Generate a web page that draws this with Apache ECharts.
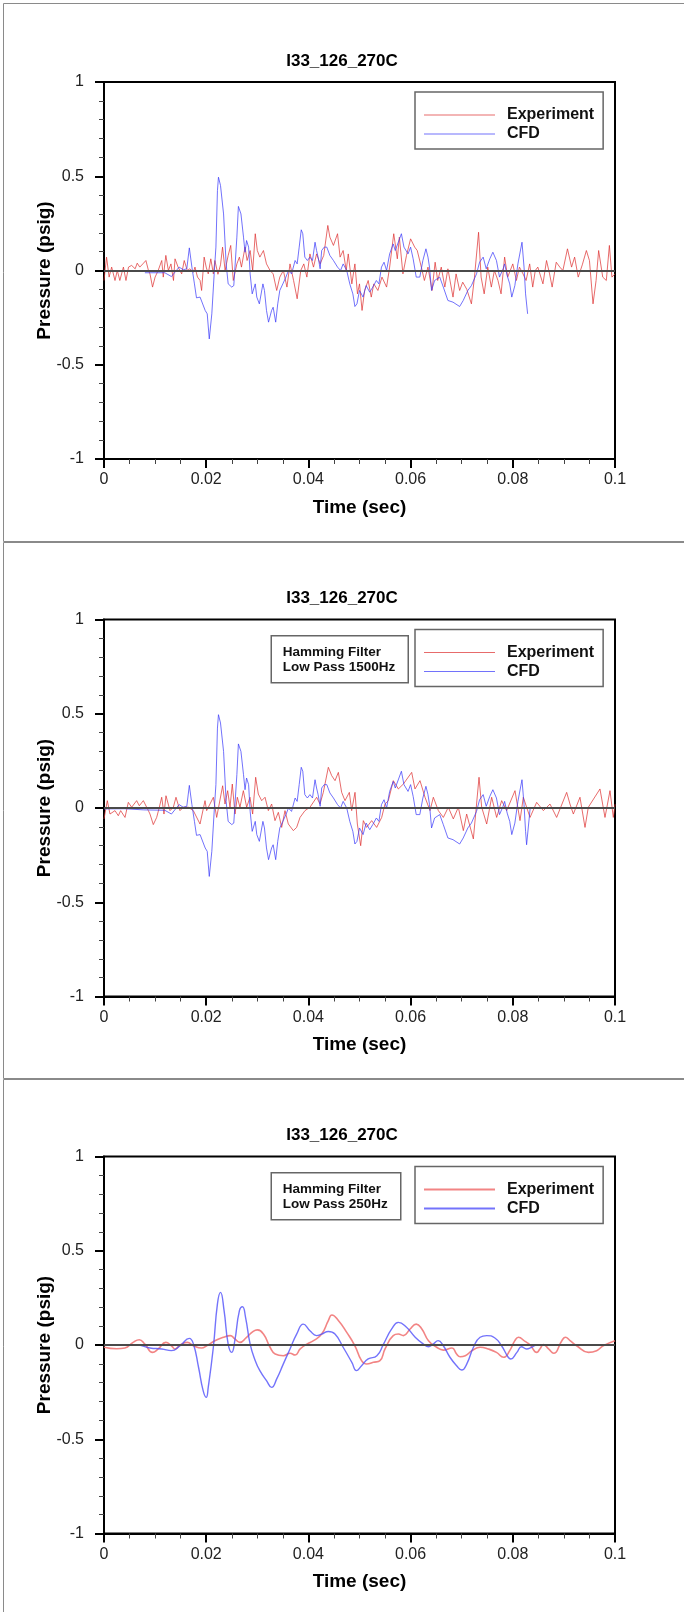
<!DOCTYPE html>
<html>
<head>
<meta charset="utf-8">
<script src="https://cdn.jsdelivr.net/npm/echarts@6/dist/echarts.min.js"></script>
<style>
html,body{margin:0;padding:0;background:#fff;}
#chart{width:684px;height:1612px;}
</style>
</head>
<body>
<div id="chart"></div>
<script>
// ---------- DATA (time in seconds, pressure in psig) ----------
const panelTitle = 'I33_126_270C';
const xTicks = [0, 0.02, 0.04, 0.06, 0.08, 0.1];
const yTicks = [-1, -0.5, 0, 0.5, 1];
const filterNotes = ['', 'Hamming Filter\nLow Pass 1500Hz', 'Hamming Filter\nLow Pass 250Hz'];

// Panel 1 : raw signals
const expRawA = [[0,-0.053],[0.0005,0.071],[0.001,-0.035],[0.0015,0.018],[0.00215,-0.053],[0.0026,0],[0.0031,-0.053],[0.0038,0.018],[0.0043,-0.053],[0.0048,0.018],[0.0054,0.027],[0.0061,0.009],[0.0065,0.039],[0.007,0.018],[0.0076,0.035],[0.0082,0.053],[0.0087,0],[0.009,-0.018],[0.0095,-0.088],[0.01,-0.035],[0.0106,0],[0.0113,0.053],[0.0116,-0.035],[0.0121,0.08],[0.0126,0],[0.0131,0.035],[0.0136,-0.053],[0.0139,0.062],[0.0145,0.018],[0.0152,-0.018],[0.0157,0.053],[0.0163,0],[0.0168,0.009],[0.0175,-0.009],[0.0178,0.018],[0.0183,-0.035],[0.0188,-0.053],[0.0191,-0.106],[0.0196,0.071],[0.02,0.018],[0.0204,-0.018],[0.0209,0.062],[0.0214,-0.018],[0.0217,0.053],[0.0223,-0.02],[0.0228,0.03],[0.0232,0.124],[0.0237,0],[0.0243,0.08],[0.0248,0.133],[0.0253,-0.053],[0.026,0.035],[0.0265,0.071],[0.0269,0.018],[0.0276,0.124],[0.028,0.053],[0.0286,0.106],[0.0291,0],[0.0296,0.195],[0.03,0.106],[0.0305,0.071],[0.0312,0.106],[0.0318,0.035],[0.0325,0],[0.0331,-0.018],[0.0338,-0.106],[0.0344,-0.035],[0.0351,0],[0.0358,-0.088],[0.0364,0.035],[0.0371,-0.053],[0.0378,-0.15],[0.0385,0],[0.0391,0.035],[0.0397,-0.035],[0.0403,0.088],[0.041,0.018],[0.0416,0.088],[0.0423,0.035],[0.043,0.08],[0.0438,0.239],[0.0442,0.177],[0.0449,0.133],[0.0457,0.195],[0.0462,0.071],[0.0468,0.106],[0.0474,0],[0.0478,0.088],[0.0485,-0.071],[0.0491,0.035],[0.0496,-0.124]];
const expRawB = [[0.05,-0.071],[0.0505,-0.212],[0.051,-0.106],[0.0517,-0.053],[0.0523,-0.141],[0.0528,-0.071],[0.0536,-0.106],[0.0544,-0.035],[0.0553,-0.088],[0.0559,0.018],[0.0567,0.195],[0.0574,0.062],[0.0578,0.177],[0.0585,-0.018],[0.0592,0.08],[0.06,0.168],[0.0608,0.124],[0.0613,0.106],[0.0621,0.018],[0.0627,-0.053],[0.0634,0.018],[0.0642,-0.106],[0.0648,0.044],[0.0653,-0.053],[0.066,0.018],[0.0667,-0.088],[0.0673,0.009],[0.0683,-0.141],[0.0689,-0.018],[0.0696,-0.106],[0.0702,-0.062],[0.071,-0.1],[0.0719,-0.177],[0.0725,-0.035],[0.0733,0.203],[0.0738,-0.035],[0.0744,-0.124],[0.0751,0.018],[0.0758,-0.088],[0.0764,0],[0.0771,-0.053],[0.0777,-0.124],[0.0784,0.071],[0.079,-0.035],[0.08,0.035],[0.0807,-0.053],[0.0813,0.018],[0.082,-0.018],[0.0826,-0.053],[0.0833,0.035],[0.0839,-0.088],[0.0844,0],[0.0849,0.018],[0.0859,-0.071],[0.0866,0.053],[0.0872,-0.018],[0.0877,-0.088],[0.0885,0.044],[0.0892,0.018],[0.0898,0],[0.0907,0.115],[0.0915,0.018],[0.0921,0.071],[0.0928,-0.035],[0.0936,0.03],[0.0944,0.106],[0.095,0.053],[0.0957,-0.177],[0.0963,-0.053],[0.0968,0.106],[0.0976,-0.035],[0.0983,-0.053],[0.0989,0.133],[0.0994,-0.035],[0.1,-0.018]];
const cfdRaw = [[0.008,-0.012],[0.0119,-0.012],[0.0132,-0.032],[0.0147,0.018],[0.0155,0.004],[0.0162,0.009],[0.0167,0.12],[0.0172,0.018],[0.0177,-0.071],[0.0181,-0.145],[0.0188,-0.141],[0.0198,-0.212],[0.0202,-0.23],[0.0206,-0.363],[0.0211,-0.23],[0.0216,0],[0.0219,0.124],[0.0222,0.424],[0.0224,0.495],[0.0228,0.451],[0.0234,0.3],[0.0239,0.035],[0.0243,-0.071],[0.025,-0.088],[0.0254,-0.08],[0.026,0.177],[0.0263,0.34],[0.0268,0.3],[0.0273,0.177],[0.0276,0.097],[0.0279,0.159],[0.0283,0.124],[0.0286,-0.018],[0.029,-0.124],[0.0296,-0.071],[0.0299,-0.141],[0.0304,-0.177],[0.0311,-0.071],[0.0314,-0.106],[0.0318,-0.212],[0.0322,-0.274],[0.0328,-0.212],[0.0331,-0.195],[0.0336,-0.274],[0.034,-0.177],[0.0344,-0.106],[0.035,-0.071],[0.0356,-0.035],[0.0361,0],[0.0367,-0.018],[0.0374,0.053],[0.0378,0.035],[0.0382,0.124],[0.0386,0.216],[0.0389,0.195],[0.0393,0.071],[0.0398,0.053],[0.0403,0.071],[0.0408,0.053],[0.0413,0.15],[0.0416,0.106],[0.0419,0.071],[0.0423,0.009],[0.0426,0.106],[0.0431,0.124],[0.0436,0.124],[0.0442,0.08],[0.0449,0.053],[0.0457,0.018],[0.0463,0],[0.0468,0.035],[0.0475,0],[0.0481,-0.071],[0.0487,-0.124],[0.0491,-0.191],[0.0495,-0.177],[0.05,-0.106],[0.0507,-0.141],[0.0513,-0.08],[0.052,-0.115],[0.0526,-0.088],[0.0533,-0.053],[0.0538,-0.071],[0.0543,0.018],[0.0548,0.044],[0.0553,0],[0.0559,0.088],[0.0566,0.141],[0.057,0.106],[0.0582,0.195],[0.0587,0.124],[0.0595,0.088],[0.06,0.124],[0.0605,0.062],[0.0611,-0.035],[0.0618,-0.035],[0.0624,0.053],[0.063,0.115],[0.0634,0.071],[0.0637,0.018],[0.0641,-0.106],[0.0647,-0.053],[0.0657,-0.035],[0.0664,-0.088],[0.0673,-0.159],[0.0683,-0.168],[0.0696,-0.191],[0.0703,-0.159],[0.0712,-0.106],[0.0719,-0.08],[0.0729,-0.018],[0.0735,0.044],[0.0742,0.071],[0.0748,0.009],[0.0755,0.062],[0.0761,0.097],[0.0768,0.053],[0.0774,-0.035],[0.0781,0.009],[0.0784,0.035],[0.0789,-0.027],[0.0794,-0.071],[0.0798,-0.141],[0.0804,-0.08],[0.081,0.035],[0.0818,0.15],[0.0822,0.018],[0.0825,-0.124],[0.0829,-0.23]];

// Panel 2 : low pass 1500 Hz
const exp1500 = [[0,-0.058],[0.00065,0.039],[0.00117,-0.032],[0.00215,-0.014],[0.0028,-0.041],[0.00326,-0.014],[0.00411,-0.05],[0.00476,0.03],[0.00541,0.004],[0.00639,0.039],[0.00691,0.012],[0.0077,0.039],[0.00868,-0.014],[0.009,-0.032],[0.00965,-0.088],[0.01031,-0.05],[0.01083,0.004],[0.01129,0.057],[0.01174,-0.032],[0.01213,0.065],[0.01292,-0.014],[0.01357,0.004],[0.01409,0.057],[0.01487,-0.014],[0.01553,0.004],[0.0165,0.004],[0.01748,-0.014],[0.01879,-0.085],[0.01977,0.039],[0.02009,-0.014],[0.0214,0.057],[0.02205,-0.05],[0.02322,0.118],[0.02368,0.021],[0.0242,0.092],[0.02466,0.004],[0.02511,0.127],[0.02564,-0.032],[0.02609,0.057],[0.02661,0.004],[0.02727,0.092],[0.02792,0.004],[0.02857,0.057],[0.02909,-0.032],[0.02968,0.163],[0.0302,0.074],[0.03086,0.039],[0.03151,0.057],[0.03216,-0.014],[0.03281,0.021],[0.03346,-0.067],[0.03412,-0.023],[0.03477,-0.103],[0.03542,-0.014],[0.03607,-0.085],[0.03705,-0.12],[0.0377,-0.103],[0.03836,-0.05],[0.03933,-0.014],[0.04031,0.004],[0.04162,0.057],[0.04227,0.021],[0.04292,0.083],[0.0439,0.216],[0.04455,0.172],[0.04521,0.145],[0.04586,0.189],[0.04651,0.083],[0.04716,0.039],[0.04801,0.083],[0.04847,-0.014],[0.04912,0.083],[0.04958,-0.085],[0.05023,-0.2],[0.05075,-0.067],[0.0514,-0.103],[0.05238,-0.067],[0.05336,-0.103],[0.05434,-0.05],[0.05499,0.021],[0.05564,0.039],[0.05662,0.145],[0.0576,0.101],[0.05858,0.127],[0.06021,0.189],[0.06086,0.101],[0.06184,0.145],[0.06282,0.057],[0.0638,-0.014],[0.06445,0.057],[0.06543,-0.014],[0.06641,-0.05],[0.06738,0.004],[0.06836,-0.058],[0.06934,0.004],[0.07032,-0.12],[0.07097,-0.032],[0.07228,-0.164],[0.07339,0.163],[0.07391,0.004],[0.07489,-0.085],[0.07586,0.057],[0.07684,-0.05],[0.07782,0.039],[0.0788,-0.014],[0.08043,0.092],[0.08141,-0.067],[0.08206,0.057],[0.08337,-0.05],[0.08467,0.03],[0.08598,-0.014],[0.08728,0.021],[0.08858,-0.05],[0.09054,0.083],[0.09119,0.021],[0.09185,-0.032],[0.09315,0.057],[0.09413,-0.103],[0.09478,0.004],[0.09706,0.101],[0.09804,-0.05],[0.09902,0.092],[0.09967,-0.05],[0.1,0.02]];
const cfd1500Head = [[0,-0.005],[0.004,-0.004],[0.0078,-0.01]];
const cfd1500Tail = [[0.0827,-0.195],[0.0834,0],[0.0912,0]];

// Panel 3 : low pass 250 Hz
const exp250 = [[0,-0.012],[0.0025,-0.02],[0.0041,-0.016],[0.0057,0.014],[0.0069,0.028],[0.008,0.005],[0.0095,-0.039],[0.0106,-0.021],[0.0121,0.014],[0.0132,-0.004],[0.0139,-0.021],[0.0149,0],[0.0163,0.014],[0.0175,-0.004],[0.0191,-0.016],[0.0201,-0.004],[0.0217,0.023],[0.0234,0.041],[0.0247,0.05],[0.0256,0.032],[0.0266,0.014],[0.0279,0.041],[0.0292,0.072],[0.03,0.08],[0.0312,0.058],[0.0325,-0.012],[0.0335,-0.048],[0.0351,-0.057],[0.0364,-0.044],[0.0374,-0.053],[0.0384,-0.021],[0.0397,0.005],[0.041,0.023],[0.0426,0.058],[0.0439,0.129],[0.0446,0.159],[0.0459,0.129],[0.0475,0.067],[0.0491,-0.004],[0.0504,-0.083],[0.0514,-0.101],[0.0527,-0.092],[0.054,-0.083],[0.055,-0.021],[0.0566,0.05],[0.0576,0.058],[0.0586,0.05],[0.0599,0.085],[0.0611,0.111],[0.0622,0.085],[0.0635,0.023],[0.0651,-0.012],[0.0664,-0.027],[0.0681,-0.016],[0.069,-0.048],[0.0697,-0.062],[0.0707,-0.057],[0.072,-0.03],[0.0736,-0.012],[0.0752,-0.021],[0.0768,-0.039],[0.0782,-0.065],[0.0794,-0.03],[0.0804,0.023],[0.0811,0.041],[0.0824,0.019],[0.0834,0],[0.0847,-0.039],[0.0853,-0.021],[0.086,0.002],[0.087,-0.021],[0.088,-0.044],[0.0896,0.023],[0.0903,0.041],[0.0912,0.023],[0.0925,-0.004],[0.0948,-0.039],[0.0964,-0.03],[0.0977,-0.004],[0.1,0.023]];
const cfd250 = [[0,0],[0.0064,0],[0.009,-0.016],[0.0113,-0.021],[0.0132,-0.03],[0.0149,-0.004],[0.0167,0.035],[0.0175,0.005],[0.0185,-0.118],[0.0194,-0.242],[0.02,-0.278],[0.0204,-0.225],[0.0214,-0.012],[0.0222,0.218],[0.0228,0.279],[0.0235,0.182],[0.0243,0.005],[0.025,-0.039],[0.0256,0.023],[0.0265,0.182],[0.0271,0.203],[0.0277,0.147],[0.0286,0.005],[0.0296,-0.083],[0.0305,-0.136],[0.0318,-0.189],[0.0328,-0.225],[0.0338,-0.18],[0.0351,-0.1],[0.0364,-0.021],[0.0377,0.058],[0.039,0.111],[0.0403,0.076],[0.0416,0.05],[0.0426,0.058],[0.0439,0.072],[0.0452,0.058],[0.0468,-0.012],[0.0485,-0.092],[0.0494,-0.136],[0.0504,-0.11],[0.0517,-0.074],[0.0534,-0.057],[0.0547,0.005],[0.0563,0.085],[0.0576,0.12],[0.0592,0.094],[0.0609,0.041],[0.0625,0.005],[0.0635,-0.009],[0.0644,0.005],[0.0654,0.023],[0.0664,-0.004],[0.0677,-0.065],[0.069,-0.11],[0.07,-0.133],[0.071,-0.1],[0.0723,-0.012],[0.0736,0.041],[0.0749,0.05],[0.0765,0.037],[0.0778,-0.004],[0.0791,-0.065],[0.0796,-0.074],[0.0808,-0.039],[0.0817,-0.009],[0.0827,-0.021],[0.0837,-0.012],[0.0847,0],[0.0912,0]];

// ---------- CHART ----------
const FONT = '"Liberation Sans", Arial, Helvetica, sans-serif';
const RED = 'rgba(222,50,50,0.72)';
const BLUE = 'rgba(60,60,250,0.72)';
const RED3 = 'rgba(240,110,110,0.85)';
const BLUE3 = 'rgba(80,80,250,0.8)';

const panelTop = [0, 539, 1076];
const panelH = [539, 537, 536];
const gridTop = [82, 619.5, 1156.5];
const gridH = 377;

const expSets = [expRawA.concat(expRawB), exp1500, exp250];
const cfdSets = [cfdRaw, cfd1500Head.concat(cfdRaw.slice(1, cfdRaw.length - 1), cfd1500Tail), cfd250];

function fmt(v) { return String(parseFloat(Number(v).toFixed(3))); }

const grids = [], xAxes = [], yAxes = [], titles = [], legends = [], series = [], graphics = [];
for (let i = 0; i < 3; i++) {
  const sfx = i ? ' ' + i : '';
  grids.push({left: 104, top: gridTop[i], width: 511, height: gridH, show: true,
    borderColor: '#000', borderWidth: 2, backgroundColor: 'transparent'});
  xAxes.push({type: 'value', gridIndex: i, min: xTicks[0], max: xTicks[xTicks.length - 1],
    interval: xTicks[1] - xTicks[0],
    name: 'Time (sec)', nameLocation: 'middle', nameGap: 39, nameMoveOverlap: false,
    nameTextStyle: {fontFamily: FONT, fontSize: 19, fontWeight: 'bold', color: '#000'},
    axisLine: {show: true, onZero: false, lineStyle: {color: '#000', width: 2}},
    axisTick: {show: true, inside: false, length: 9, lineStyle: {color: '#000', width: 2}},
    minorTick: {show: true, splitNumber: 4, length: 5, lineStyle: {color: '#444', width: 1}},
    splitLine: {show: false},
    axisLabel: {margin: 13, fontFamily: FONT, fontSize: 16, color: '#222', formatter: fmt}
  });
  yAxes.push({type: 'value', gridIndex: i, min: yTicks[0], max: yTicks[yTicks.length - 1],
    interval: yTicks[1] - yTicks[0],
    name: 'Pressure (psig)', nameLocation: 'middle', nameGap: 50, nameRotate: 90, nameMoveOverlap: false,
    nameTextStyle: {fontFamily: FONT, fontSize: 19, fontWeight: 'bold', color: '#000'},
    axisLine: {show: true, onZero: false, lineStyle: {color: '#000', width: 2}},
    axisTick: {show: true, inside: false, length: 9, lineStyle: {color: '#000', width: 2}},
    minorTick: {show: true, splitNumber: 5, length: 5, lineStyle: {color: '#444', width: 1}},
    splitLine: {show: false},
    axisLabel: {margin: 20, fontFamily: FONT, fontSize: 16, color: '#222', formatter: fmt}
  });
  titles.push({text: panelTitle, left: 'center', top: gridTop[i] - 35,
    textStyle: {fontFamily: FONT, fontSize: 17, fontWeight: 'bold', color: '#000', lineHeight: 18}});
  legends.push({orient: 'vertical', left: 415, top: gridTop[i] + 10,
    data: ['Experiment', 'CFD'].map(n => ({name: n + sfx})),
    formatter: n => n.split(' ')[0],
    icon: 'rect',
    backgroundColor: '#fff', borderColor: '#666', borderWidth: 1.5, borderRadius: 0,
    padding: [15, 9, 7, 9], itemGap: 3, itemWidth: 71, itemHeight: i === 2 ? 2 : 1.2,
    textStyle: {fontFamily: FONT, fontSize: 16, fontWeight: 'bold', color: '#111', padding: [0, 0, 0, 7], lineHeight: 16}
  });
  // zero reference line
  series.push({type: 'line', name: 'zero' + i, xAxisIndex: i, yAxisIndex: i, data: [], z: 1, silent: true,
    markLine: {silent: true, symbol: 'none', label: {show: false},
      lineStyle: {color: '#4a4a4a', width: 2, type: 'solid'}, data: [{yAxis: 0}]}});
  series.push({type: 'line', name: 'Experiment' + sfx, xAxisIndex: i, yAxisIndex: i,
    data: expSets[i], symbol: 'none', showSymbol: false, z: 3, smooth: i === 2 ? 0.5 : false,
    lineStyle: {color: i === 2 ? RED3 : RED, width: i === 2 ? 1.6 : 1}, itemStyle: {color: i === 2 ? RED3 : RED}});
  series.push({type: 'line', name: 'CFD' + sfx, xAxisIndex: i, yAxisIndex: i,
    data: cfdSets[i], symbol: 'none', showSymbol: false, z: 4, smooth: i === 2 ? 0.5 : false,
    lineStyle: {color: i === 2 ? BLUE3 : BLUE, width: i === 2 ? 1.4 : 1}, itemStyle: {color: i === 2 ? BLUE3 : BLUE}});
  // panel frame
  graphics.push({type: 'rect', left: 1, top: panelTop[i] + 1, z: 0, silent: true,
    shape: {x: 0, y: 0, width: 681, height: panelH[i] - 1},
    style: {fill: 'none', stroke: '#8a8a8a', lineWidth: 1}});
  if (filterNotes[i]) {
    const w = i === 1 ? 137 : 129.5;
    graphics.push({type: 'group', left: 270.5, top: gridTop[i] + 15.5, z: 10, children: [
      {type: 'rect', shape: {x: 0, y: 0, width: w, height: 47},
        style: {fill: '#fff', stroke: '#666', lineWidth: 1.5}},
      {type: 'text', x: 11.5, y: 9.5, style: {text: filterNotes[i], fill: '#111',
        font: 'bold 13.5px ' + FONT, lineHeight: 14.5}}
    ]});
  }
}

const chart = echarts.init(document.getElementById('chart'), null, {renderer: 'canvas'});
chart.setOption({
  animation: false,
  backgroundColor: '#fff',
  title: titles, grid: grids, xAxis: xAxes, yAxis: yAxes, legend: legends,
  series: series, graphic: graphics
});
</script>
</body>
</html>
